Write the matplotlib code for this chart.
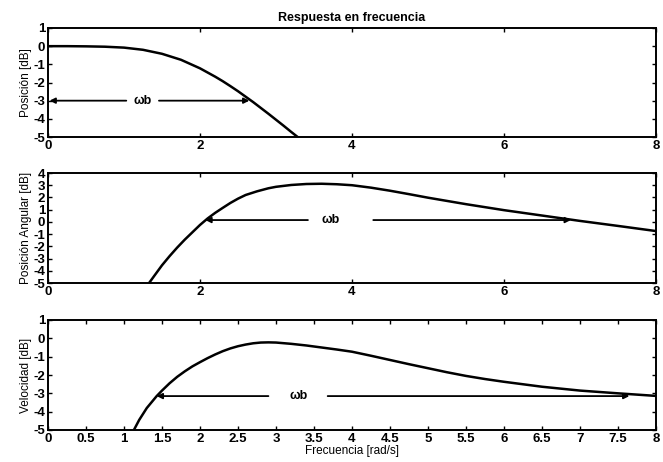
import matplotlib
matplotlib.use("Agg")
import matplotlib.pyplot as plt

plt.rcParams['font.family'] = ['Liberation Sans', 'DejaVu Sans']

# --- data ---
pos_w = [0, 0.25, 0.5, 0.75, 1.0, 1.25, 1.5, 1.75, 2.0, 2.1, 2.2, 2.3, 2.4, 2.5, 2.6,
         2.7, 2.8, 2.9, 3.0, 3.1, 3.2, 3.3]
pos_db = [0, 0, -0.01, -0.03, -0.08, -0.2, -0.42, -0.75, -1.22, -1.45, -1.68, -1.93, -2.2,
          -2.48, -2.78, -3.08, -3.4, -3.72, -4.05, -4.38, -4.72, -5.05]

ang_w = [1.3, 1.33, 1.4, 1.5, 1.6, 1.7, 1.8, 1.9, 2.0, 2.1, 2.2, 2.3, 2.4, 2.5, 2.6, 2.75,
         2.9, 3.0, 3.2, 3.4, 3.6, 3.8, 4.0, 4.25, 4.5, 4.75, 5.0, 5.5, 6.0, 6.5, 7.0, 7.5, 8.0]
ang_db = [-5.4, -5.0, -4.4, -3.55, -2.8, -2.1, -1.45, -0.85, -0.25, 0.28, 0.74, 1.15, 1.55,
          1.9, 2.2, 2.5, 2.75, 2.87, 3.02, 3.1, 3.12, 3.08, 3.0, 2.8, 2.55, 2.27, 1.98, 1.45,
          0.96, 0.52, 0.08, -0.33, -0.75]

vel_w = [1.1, 1.13, 1.2, 1.3, 1.43, 1.5, 1.6, 1.7, 1.8, 1.9, 2.0, 2.1, 2.2, 2.3, 2.4, 2.5,
         2.6, 2.7, 2.8, 2.9, 3.0, 3.2, 3.4, 3.6, 3.8, 4.0, 4.25, 4.5, 4.75, 5.0, 5.25, 5.5,
         5.75, 6.0, 6.5, 7.0, 7.5, 8.0]
vel_db = [-5.25, -5.0, -4.45, -3.8, -3.15, -2.85, -2.45, -2.1, -1.8, -1.53, -1.3, -1.08,
          -0.88, -0.7, -0.55, -0.43, -0.34, -0.27, -0.23, -0.22, -0.23, -0.3, -0.39, -0.5,
          -0.61, -0.73, -0.95, -1.18, -1.41, -1.63, -1.85, -2.05, -2.22, -2.37, -2.64, -2.85,
          -3.0, -3.14]

# bandwidth annotations: (level, left head, left tail, text x, right tail, right head)
pos_bw = (-3.0, 0.02, 1.03, 1.24, 1.46, 2.65)
ang_bw = (0.15, 2.07, 3.42, 3.72, 4.28, 6.88)
vel_bw = (-3.15, 1.43, 2.9, 3.3, 3.68, 7.65)

ylabels = ['Posición [dB]', 'Posición Angular [dB]', 'Velocidad [dB]']
yranges = [(-5, 1), (-5, 4), (-5, 1)]
xt_coarse = [0, 2, 4, 6, 8]
xt_fine = [0, 0.5, 1, 1.5, 2, 2.5, 3, 3.5, 4, 4.5, 5, 5.5, 6, 6.5, 7, 7.5, 8]
xt_fine_lbl = ['0', '0.5', '1', '1.5', '2', '2.5', '3', '3.5', '4', '4.5', '5', '5.5',
               '6', '6.5', '7', '7.5', '8']

fig = plt.figure(figsize=(6.63, 4.62), dpi=100)
fig.patch.set_facecolor('white')

L, R = 48, 656
rects = [
    [L / 663, (462 - 137) / 462, (R - L) / 663, 109 / 462],
    [L / 663, (462 - 283) / 462, (R - L) / 663, 110 / 462],
    [L / 663, (462 - 430) / 462, (R - L) / 663, 110 / 462],
]
series = [(pos_w, pos_db, pos_bw), (ang_w, ang_db, ang_bw), (vel_w, vel_db, vel_bw)]

for i, (rect, (w, db, bw)) in enumerate(zip(rects, series)):
    ax = fig.add_axes(rect)
    ax.plot(w, db, color='black', lw=1.8, solid_capstyle='butt', solid_joinstyle='round')
    ax.set_xlim(0, 8)
    ax.set_ylim(*yranges[i])
    lo, hi = yranges[i]
    ax.set_yticks(list(range(lo, hi + 1)))
    ax.set_yticklabels([str(v) for v in range(lo, hi + 1)])
    if i < 2:
        ax.set_xticks(xt_coarse)
        ax.set_xticklabels([str(v) for v in xt_coarse])
    else:
        ax.set_xticks(xt_fine)
        ax.set_xticklabels(xt_fine_lbl)
        ax.set_xlabel('Frecuencia [rad/s]', fontsize=8.5, labelpad=0)
    ax.tick_params(direction='in', length=3, width=1.0, top=True, right=True,
                   labelsize=9.5, pad=2)
    for lab in ax.get_xticklabels() + ax.get_yticklabels():
        lab.set_fontweight('bold')
    for sp in ax.spines.values():
        sp.set_linewidth(1.4)
    ax.set_ylabel(ylabels[i], fontsize=8.5, labelpad=1)

    level, lh, lt, tx, rt, rh = bw
    ap = dict(arrowstyle='-|>', color='black', lw=1.3, mutation_scale=8,
              shrinkA=0, shrinkB=0)
    ax.annotate('', xy=(lh, level), xytext=(lt, level), arrowprops=ap)
    ax.annotate('', xy=(rh, level), xytext=(rt, level), arrowprops=ap)
    ax.text(tx, level, 'ωb', ha='center', va='center', fontsize=9, fontweight='bold')

    if i == 0:
        ax.set_title('Respuesta en frecuencia', fontsize=9, fontweight='bold', pad=5)

fig.savefig('out.png', dpi=100, facecolor='white')
